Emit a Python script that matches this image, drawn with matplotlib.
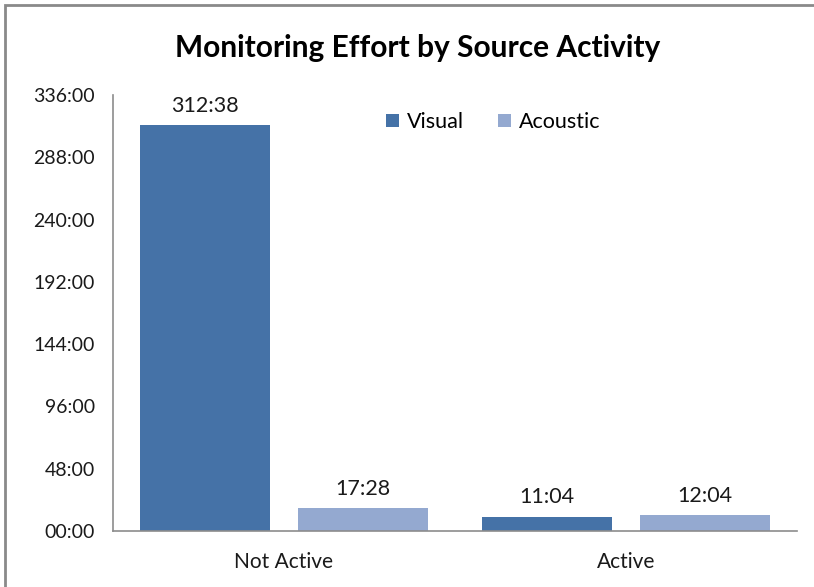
import matplotlib
matplotlib.use("Agg")
import matplotlib.pyplot as plt
from matplotlib.patches import Rectangle
from matplotlib.ticker import FuncFormatter
import numpy as np

plt.rcParams['font.family'] = ['Lato', 'DejaVu Sans']

# effort in minutes
categories = ['Not Active', 'Active']
visual_min = [312 * 60 + 38, 11 * 60 + 4]
acoustic_min = [17 * 60 + 28, 12 * 60 + 4]
y_ticks_h = [0, 48, 96, 144, 192, 240, 288, 336]

c_visual = '#4572A7'
c_acoustic = '#94A9D0'


def hhmm(minutes):
    minutes = int(round(minutes))
    return '%02d:%02d' % (minutes // 60, minutes % 60)


fig = plt.figure(figsize=(8.14, 5.87), dpi=100)
ax = fig.add_axes([0.1388, 0.0954, 0.8403, 0.7426])

x = np.arange(len(categories))
w = 0.38
off = 0.23
visual_h = np.array(visual_min) / 60.0
acoustic_h = np.array(acoustic_min) / 60.0
b1 = ax.bar(x - off, visual_h, w, color=c_visual, label='Visual')
b2 = ax.bar(x + off, acoustic_h, w, color=c_acoustic, label='Acoustic')

for bars, vals in ((b1, visual_min), (b2, acoustic_min)):
    for rect, v in zip(bars, vals):
        ax.annotate(hhmm(v), (rect.get_x() + rect.get_width() / 2, rect.get_height()),
                    xytext=(0, 7), textcoords='offset points', ha='center', va='bottom',
                    fontsize=15.5, color='#1a1a1a')

ax.set_xlim(-0.5, 1.5)
ax.set_ylim(0, 336)
ax.set_yticks(y_ticks_h)
ax.yaxis.set_major_formatter(FuncFormatter(lambda v, p: hhmm(v * 60)))
ax.set_xticks(x)
ax.set_xticklabels(categories)
ax.tick_params(axis='both', length=0, labelcolor='#1a1a1a')
ax.tick_params(axis='y', pad=13, labelsize=14)
ax.tick_params(axis='x', pad=15, labelsize=15)
for s in ('top', 'right'):
    ax.spines[s].set_visible(False)
for s in ('left', 'bottom'):
    ax.spines[s].set_color('#8c8c8c')
    ax.spines[s].set_linewidth(1.2)

fig.text(0.513, 0.918, 'Monitoring Effort by Source Activity', ha='center', va='center',
         fontsize=21.5, fontweight='bold', color='black')

fig.legend(handles=[b1, b2], loc='center', bbox_to_anchor=(0.606, 0.792), ncol=2,
           frameon=False, fontsize=15.5, handlelength=0.6, handleheight=0.6,
           handletextpad=0.35, columnspacing=1.6)

# outer chart frame (partly cropped)
fig.patches.append(Rectangle((5 / 814, -0.2), 1.2, 1.2 - 5 / 587, transform=fig.transFigure,
                             fill=False, edgecolor='#8a8a8a', linewidth=2, clip_on=False))

fig.savefig('out.png', dpi=100)
